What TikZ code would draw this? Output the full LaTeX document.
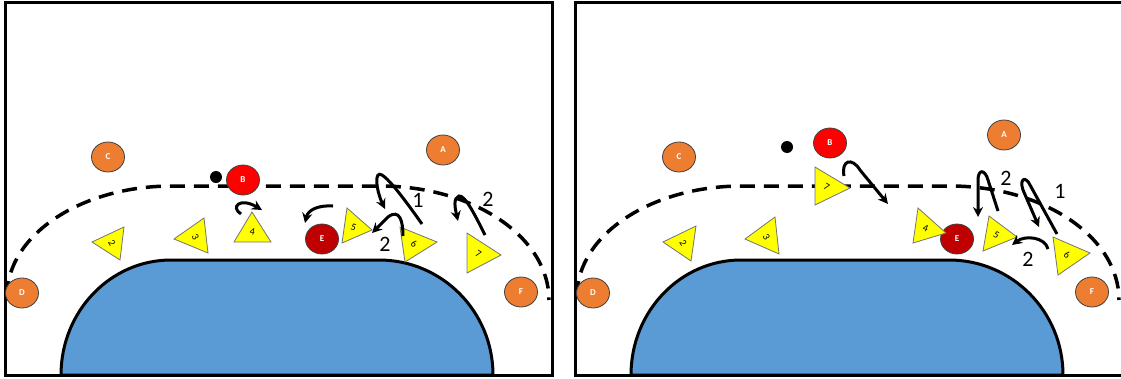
\documentclass[tikz,border=0pt]{standalone}
\usepackage{fontspec}
\setmainfont{Carlito}
\usetikzlibrary{shapes.geometric,arrows.meta}
\definecolor{courtblue}{HTML}{5B9BD5}
\definecolor{oppo}{HTML}{ED7D31}
\definecolor{redB}{HTML}{FF0000}
\definecolor{redE}{HTML}{C00000}
\definecolor{ylw}{HTML}{FFFF00}
\tikzset{
  frame/.style={draw=black,line width=3pt},
  area/.style={draw=black,line width=3pt,fill=courtblue},
  freeline/.style={draw=black,line width=3.5pt,dash pattern=on 15pt off 9pt},
  player/.style={ellipse,draw=black!75,line width=0.8pt,minimum width=33pt,minimum height=30pt,inner sep=0pt,text=white,font=\bfseries\fontsize{9}{9}\selectfont},
  opp/.style={player,fill=oppo},
  bplayer/.style={player,fill=redB},
  eplayer/.style={player,fill=redE},
  ball/.style={circle,fill=black,minimum size=12pt,inner sep=0pt},
  tri/.style={draw=black!55,line width=0.8pt,fill=ylw},
  tnum/.style={inner sep=0pt,font=\fontsize{10}{10}\selectfont},
  mv/.style={draw=black,line width=3pt,-{Stealth[length=10pt,width=10pt]}},
  lab/.style={inner sep=0pt,font=\fontsize{22}{22}\selectfont}
}
\newcommand\courtbase{%
  \draw[area] (61,375) .. controls (61,311.5) and (110.2,260) .. (171,260) -- (379,260)
     .. controls (442,260) and (493,311.5) .. (493,375) -- cycle;
  \draw[freeline] (7,296) .. controls (7,235.2) and (80.9,186) .. (172,186) -- (380,186)
     .. controls (473.3,186) and (549,237) .. (549,300);
  \draw[frame] (5,2) rectangle (552,375);
}
\begin{document}
\begin{tikzpicture}[x=1pt,y=-1pt]
\useasboundingbox (0,0) rectangle (1121,378);
\clip (0,0) rectangle (1121,378);
% ---------- left panel ----------
\courtbase
\node[opp] (C1) at (108,157) {C};
\node[opp] (A1) at (443,150) {A};
\node[opp] (D1) at (22,293) {D};
\node[opp] (F1) at (521,292) {F};
\node[ball] (ball1) at (216,177) {};
\node[bplayer] (B1) at (243,180) {B};
\node[eplayer] (E1) at (322,239) {E};
\draw[tri] (92,242) -- (124,227) -- (120,260) -- cycle;
\node[tnum,rotate=-60] (t2a) at (112,243) {2};
\draw[tri] (174,239) -- (204,218) -- (208,253) -- cycle;
\node[tnum,rotate=-60] (t3a) at (195.3,236.7) {3};
\draw[tri] (234,242) -- (271,242) -- (252,212) -- cycle;
\node[tnum,rotate=-10] (t4a) at (252.3,232) {4};
\draw[tri] (342,243) -- (347,208) -- (372,230) -- cycle;
\node[tnum,rotate=-20] (t5a) at (353.7,227) {5};
\draw[tri] (400,227) -- (437,242) -- (405,262) -- cycle;
\node[tnum,rotate=-30] (t6a) at (414,243.7) {6};
\draw[tri] (467,233) -- (501,255) -- (467,273) -- cycle;
\node[tnum,rotate=-30] (t7a) at (478.3,253.7) {7};
\coordinate (m1s) at (241,214);
\coordinate (m1e) at (262,210);
\draw[mv] (m1s) .. controls (230,207) and (240,197) .. (m1e);
\coordinate (m2s) at (333,206);
\coordinate (m2e) at (305,223);
\draw[mv] (m2s) .. controls (318,205) and (308,210) .. (m2e);
\coordinate (m3s) at (422,224);
\coordinate (m3e) at (385,209);
\draw[mv] (m3s) .. controls (405,200) and (390,180) .. (382,175) .. controls (374,170) and (376,190) .. (m3e);
\coordinate (m4s) at (403,236);
\coordinate (m4e) at (372,233);
\draw[mv] (m4s) .. controls (403,222) and (400,208) .. (388,217) -- (m4e);
\coordinate (m5s) at (485,235);
\coordinate (m5e) at (458,221);
\draw[mv] (m5s) .. controls (475,215) and (465,195) .. (459,196) .. controls (453,198) and (455,208) .. (m5e);
\node[lab] (l1a) at (418,200) {1};
\node[lab] (l2a) at (385,244) {2};
\node[lab] (l2b) at (488,199) {2};
% ---------- right panel ----------
\begin{scope}[shift={(570,0)}]
\courtbase
\end{scope}
\node[opp] (C2) at (679,157) {C};
\node[opp] (A2) at (1004,135) {A};
\node[opp] (D2) at (593,293) {D};
\node[opp] (F2) at (1092,292) {F};
\node[ball] (ball2) at (787,147) {};
\node[bplayer] (B2) at (830,143) {B};
\node[eplayer] (E2) at (957,239) {E};
\draw[tri] (815,167) -- (850,188) -- (815,205) -- cycle;
\node[tnum,rotate=-30] (t7b) at (826.7,186.7) {7};
\draw[tri] (663,242) -- (696,226) -- (691,261) -- cycle;
\node[tnum,rotate=-60] (t2b) at (683.3,243) {2};
\draw[tri] (745,239) -- (775,217) -- (779,254) -- cycle;
\node[tnum,rotate=-60] (t3b) at (766.3,236.7) {3};
\draw[tri] (918,208) -- (946,233) -- (913,243) -- cycle;
\node[tnum,rotate=-20] (t4b) at (925.7,228) {4};
\draw[tri] (989,216) -- (1017,237) -- (983,251) -- cycle;
\node[tnum,rotate=-30] (t5b) at (996.3,234.7) {5};
\draw[tri] (1053,237) -- (1090,253) -- (1058,275) -- cycle;
\node[tnum,rotate=-30] (t6b) at (1067,255) {6};
\coordinate (n1s) at (844,176);
\coordinate (n1e) at (888,204);
\draw[mv] (n1s) .. controls (841,160) and (852,157) .. (860,170) -- (n1e);
\coordinate (n2s) at (998,211);
\coordinate (n2e) at (978,217);
\draw[mv] (n2s) -- (988,180) .. controls (985,169) and (978,169) .. (978,180) -- (n2e);
\coordinate (n3s) at (1057,234);
\coordinate (n3e) at (1039,227);
\draw[mv] (n3s) -- (1030,185) .. controls (1026,176) and (1019,178) .. (1023,190) -- (n3e);
\coordinate (n4s) at (1048,249);
\coordinate (n4e) at (1012,245);
\draw[mv] (n4s) .. controls (1045,237) and (1025,235) .. (n4e);
\node[lab] (l2c) at (1006,178) {2};
\node[lab] (l1b) at (1060,191) {1};
\node[lab] (l2d) at (1028,259) {2};
\end{tikzpicture}
\end{document}
